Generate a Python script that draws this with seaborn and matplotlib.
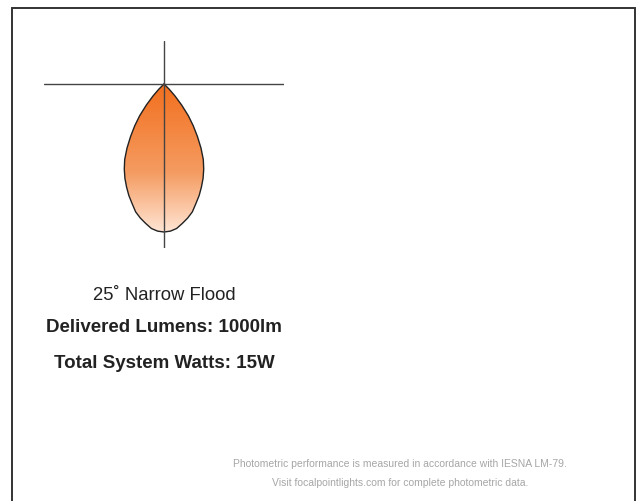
import numpy as np
import matplotlib
matplotlib.use("Agg")
import matplotlib.pyplot as plt
import seaborn as sns
from matplotlib.patches import Polygon, Rectangle
from matplotlib.colors import LinearSegmentedColormap

# relative candela distribution, angle from nadir in degrees
angles = [0, 2.5, 5, 7.5, 10, 12.5, 15, 17.5, 20, 22.5, 25, 27.5, 30,
          32.5, 35, 37.5, 40, 42.5, 45, 47.5]
intensity = [1.00, 0.995, 0.98, 0.95, 0.92, 0.885, 0.835, 0.79, 0.74, 0.69,
             0.635, 0.575, 0.50, 0.42, 0.345, 0.27, 0.185, 0.11, 0.05, 0.0]

beam_label = "25˚ Narrow Flood"
lumens_label = "Delivered Lumens: 1000lm"
watts_label = "Total System Watts: 15W"
footer_lines = ["Photometric performance is measured in accordance with IESNA LM-79.",
                "Visit focalpointlights.com for complete photometric data."]

sns.set_theme(style="white")
plt.rcParams["font.family"] = ["Liberation Sans", "DejaVu Sans"]

W, H = 641, 502
fig = plt.figure(figsize=(W / 100, H / 100), dpi=100)
fig.patch.set_facecolor("white")

def px_box(x0, y0, x1, y1):
    return [x0 / W, 1 - y1 / H, (x1 - x0) / W, (y1 - y0) / H]

# outer frame (open at the bottom)
fig.patches.append(Rectangle((12 / W, -0.1), (635 - 12) / W, 1.1 - 9 / H,
                             transform=fig.transFigure, fill=False,
                             edgecolor="#333333", linewidth=1.4))

# beam axes: 1 unit = 148 px, origin at the luminaire
scale = 148.0
ax = fig.add_axes(px_box(44, 42, 284, 249))
ax.axis("off")

th = np.radians(np.array(angles))
r = np.array(intensity)
full_th = np.concatenate([-th[::-1], th[1:]])
full_r = np.concatenate([r[::-1], r[1:]])
bx = full_r * np.sin(full_th)
by = -full_r * np.cos(full_th)

cmap = LinearSegmentedColormap.from_list(
    "beam", [(0.0, "#f26f1e"), (0.6, "#f59c62"), (1.0, "#ffe5d4")])
grad = np.linspace(0, 1, 256).reshape(-1, 1)
img = ax.imshow(grad, cmap=cmap, aspect="auto", interpolation="bilinear",
                extent=[bx.min(), bx.max(), by.min(), 0], origin="upper", zorder=1)
poly = Polygon(np.column_stack([bx, by]), closed=True, facecolor="none",
               edgecolor="none", transform=ax.transData)
ax.add_patch(poly)
img.set_clip_path(poly)

sns.lineplot(x=np.append(bx, bx[0]), y=np.append(by, by[0]), sort=False,
             estimator=None, color="#222222", linewidth=1.0, ax=ax, zorder=3)
ax.axhline(0, color="#444444", linewidth=1.0, zorder=4)
ax.axvline(0, color="#444444", linewidth=1.0, zorder=4)
ax.set_xlim(-120 / scale, 120 / scale)
ax.set_ylim(-164 / scale, 43 / scale)

# labels
fig.text(164 / W, 1 - 296 / H, beam_label, ha="center", va="center",
         fontsize=13.3, color="#222222")
fig.text(164 / W, 1 - 328 / H, lumens_label, ha="center", va="center",
         fontsize=13.5, fontweight="bold", color="#222222")
fig.text(164 / W, 1 - 364 / H, watts_label, ha="center", va="center",
         fontsize=13.5, fontweight="bold", color="#222222")
for i, line in enumerate(footer_lines):
    fig.text(400 / W, 1 - (464 + 19 * i) / H, line, ha="center", va="center",
             fontsize=7.5, color="#a6a6a6")

fig.savefig("out.png", dpi=100)
